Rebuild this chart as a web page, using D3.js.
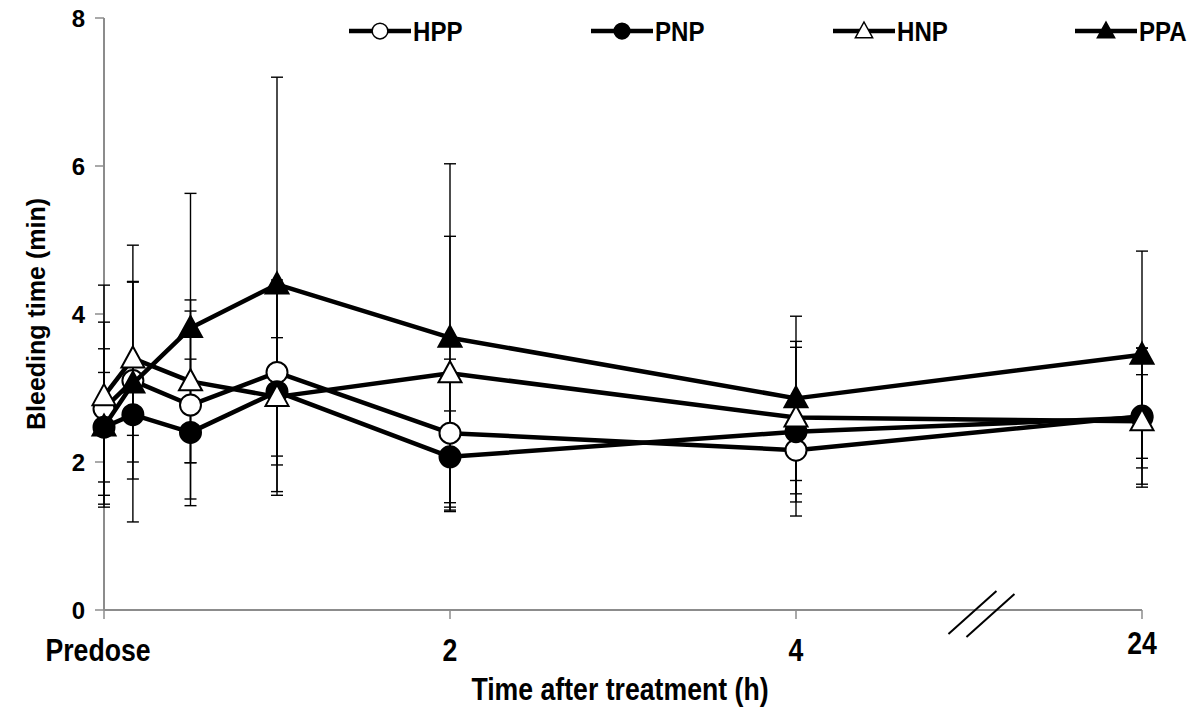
<!DOCTYPE html>
<html>
<head>
<meta charset="utf-8">
<script src="https://cdn.jsdelivr.net/npm/d3@7"></script>
<style>
  body { margin: 0; background: #fff; }
  text { font-family: "Liberation Sans", Arial, sans-serif; font-weight: bold; fill: #000; }
</style>
</head>
<body>
<svg id="chart" width="1196" height="714"></svg>
<script>
// time points (axis position, 24 h is drawn after the break at position 6)
const timePos = [0, 0.167, 0.5, 1, 2, 4, 6];
const tickPos = [0, 2, 4, 6];
const tickLabels = ["Predose", "2", "4", "24"];
const yTicks = [0, 2, 4, 6, 8];

const seriesNames = ["HPP", "PNP", "HNP", "PPA"];
const hppMean = [2.72, 3.10, 2.77, 3.21, 2.39, 2.16, 2.62];
const hppSd = [1.17, 1.33, 1.27, 1.25, 1.00, 0.70, 0.92];
const pnpMean = [2.47, 2.64, 2.40, 2.95, 2.07, 2.41, 2.60];
const pnpSd = [0.74, 0.64, 0.99, 1.40, 0.62, 1.14, 0.94];
const hnpMean = [2.89, 3.40, 3.09, 2.88, 3.20, 2.60, 2.55];
const hnpSd = [1.50, 1.04, 1.10, 0.80, 1.85, 1.03, 0.63];
const ppaMean = [2.48, 3.06, 3.81, 4.40, 3.68, 2.86, 3.45];
const ppaSd = [1.05, 1.87, 1.82, 2.80, 2.35, 1.11, 1.40];

const series = [
  { name: seriesNames[0], mean: hppMean, sd: hppSd, shape: "circle", fill: "#fff" },
  { name: seriesNames[1], mean: pnpMean, sd: pnpSd, shape: "circle", fill: "#000" },
  { name: seriesNames[2], mean: hnpMean, sd: hnpSd, shape: "triangle", fill: "#fff" },
  { name: seriesNames[3], mean: ppaMean, sd: ppaSd, shape: "triangle", fill: "#000" },
];

const svg = d3.select("#chart");
const x = d3.scaleLinear([0, 6], [104, 1142]);
const y = d3.scaleLinear([0, 8], [610, 18]);
const NARROW = 0.86; // the x labels use a condensed face

function marker(sel, shape, fill) {
  if (shape === "circle") {
    sel.append("circle").attr("r", 10.5);
  } else {
    sel.append("path").attr("d", "M0,-12L11.5,9L-11.5,9Z");
  }
  sel.selectAll("circle,path")
    .attr("fill", fill)
    .attr("stroke", "#000")
    .attr("stroke-width", 2);
}

// axes
const axisColor = "#8c8c8c";
svg.append("line")
  .attr("x1", x(0)).attr("x2", x(0))
  .attr("y1", y(8)).attr("y2", y(0))
  .attr("stroke", axisColor).attr("stroke-width", 2);
svg.append("line")
  .attr("x1", x(0)).attr("x2", x(6))
  .attr("y1", y(0)).attr("y2", y(0))
  .attr("stroke", axisColor).attr("stroke-width", 2);

svg.append("g")
  .selectAll("line")
  .data(yTicks)
  .join("line")
  .attr("x1", x(0) - 9).attr("x2", x(0))
  .attr("y1", (d) => y(d)).attr("y2", (d) => y(d))
  .attr("stroke", axisColor).attr("stroke-width", 1.5);

svg.append("g")
  .selectAll("text")
  .data(yTicks)
  .join("text")
  .attr("x", x(0) - 19)
  .attr("y", (d) => y(d))
  .attr("dy", "0.36em")
  .attr("text-anchor", "end")
  .style("font-size", "24px")
  .text((d) => d);

svg.append("g")
  .selectAll("line")
  .data(tickPos)
  .join("line")
  .attr("x1", (d) => x(d)).attr("x2", (d) => x(d))
  .attr("y1", y(0)).attr("y2", y(0) + 9)
  .attr("stroke", axisColor).attr("stroke-width", 1.5);

svg.append("g")
  .selectAll("text")
  .data(tickPos)
  .join("text")
  .attr("transform", (d, i) =>
    `translate(${x(d) - (i === 0 ? 6 : 0)},${i === 3 ? 654 : 661}) scale(${NARROW},1)`)
  .attr("text-anchor", "middle")
  .style("font-size", "31px")
  .text((d, i) => tickLabels[i]);

// axis break
const bx = x(5.02);
[[0, 0], [18, 3]].forEach(([dx, dy]) => {
  svg.append("line")
    .attr("x1", bx - 24 + dx).attr("y1", y(0) + 24 + dy)
    .attr("x2", bx + 24 + dx).attr("y2", y(0) - 19 + dy)
    .attr("stroke", "#000").attr("stroke-width", 2);
});

svg.append("text")
  .attr("transform", `translate(620,700) scale(${NARROW},1)`)
  .attr("text-anchor", "middle")
  .style("font-size", "31px")
  .text("Time after treatment (h)");

svg.append("text")
  .attr("transform", `translate(45,${y(4)}) rotate(-90)`)
  .attr("text-anchor", "middle")
  .style("font-size", "25px")
  .text("Bleeding time (min)");

// error bars
const errG = svg.append("g").attr("stroke", "#000").attr("stroke-width", 1.4);
series.forEach((s) => {
  s.mean.forEach((m, i) => {
    const cx = x(timePos[i]);
    const hi = y(m + s.sd[i]);
    const lo = y(m - s.sd[i]);
    errG.append("line").attr("x1", cx).attr("x2", cx).attr("y1", hi).attr("y2", lo);
    errG.append("line").attr("x1", cx - 6).attr("x2", cx + 6).attr("y1", hi).attr("y2", hi);
    errG.append("line").attr("x1", cx - 6).attr("x2", cx + 6).attr("y1", lo).attr("y2", lo);
  });
});

// lines and markers
const line = d3.line()
  .x((d, i) => x(timePos[i]))
  .y((d) => y(d));

series.forEach((s) => {
  const g = svg.append("g");
  g.append("path")
    .attr("d", line(s.mean))
    .attr("fill", "none")
    .attr("stroke", "#000")
    .attr("stroke-width", 4.5)
    .attr("stroke-linejoin", "round");
  g.selectAll("g")
    .data(s.mean)
    .join("g")
    .attr("transform", (d, i) => `translate(${x(timePos[i])},${y(d)})`)
    .each(function () {
      marker(d3.select(this), s.shape, s.fill);
    });
});

// legend
const legend = svg.append("g")
  .selectAll("g")
  .data(series)
  .join("g")
  .attr("transform", (d, i) => `translate(${349 + i * 242},31)`);
legend.append("line")
  .attr("x1", 0).attr("x2", 62)
  .attr("stroke", "#000").attr("stroke-width", 4.5);
legend.append("g")
  .attr("transform", "translate(31,0) scale(0.75)")
  .each(function (d) {
    marker(d3.select(this), d.shape, d.fill);
  });
legend.append("text")
  .attr("transform", `translate(64,0) scale(${NARROW},1)`)
  .attr("dy", "0.36em")
  .style("font-size", "28px")
  .text((d) => d.name);
</script>
</body>
</html>
